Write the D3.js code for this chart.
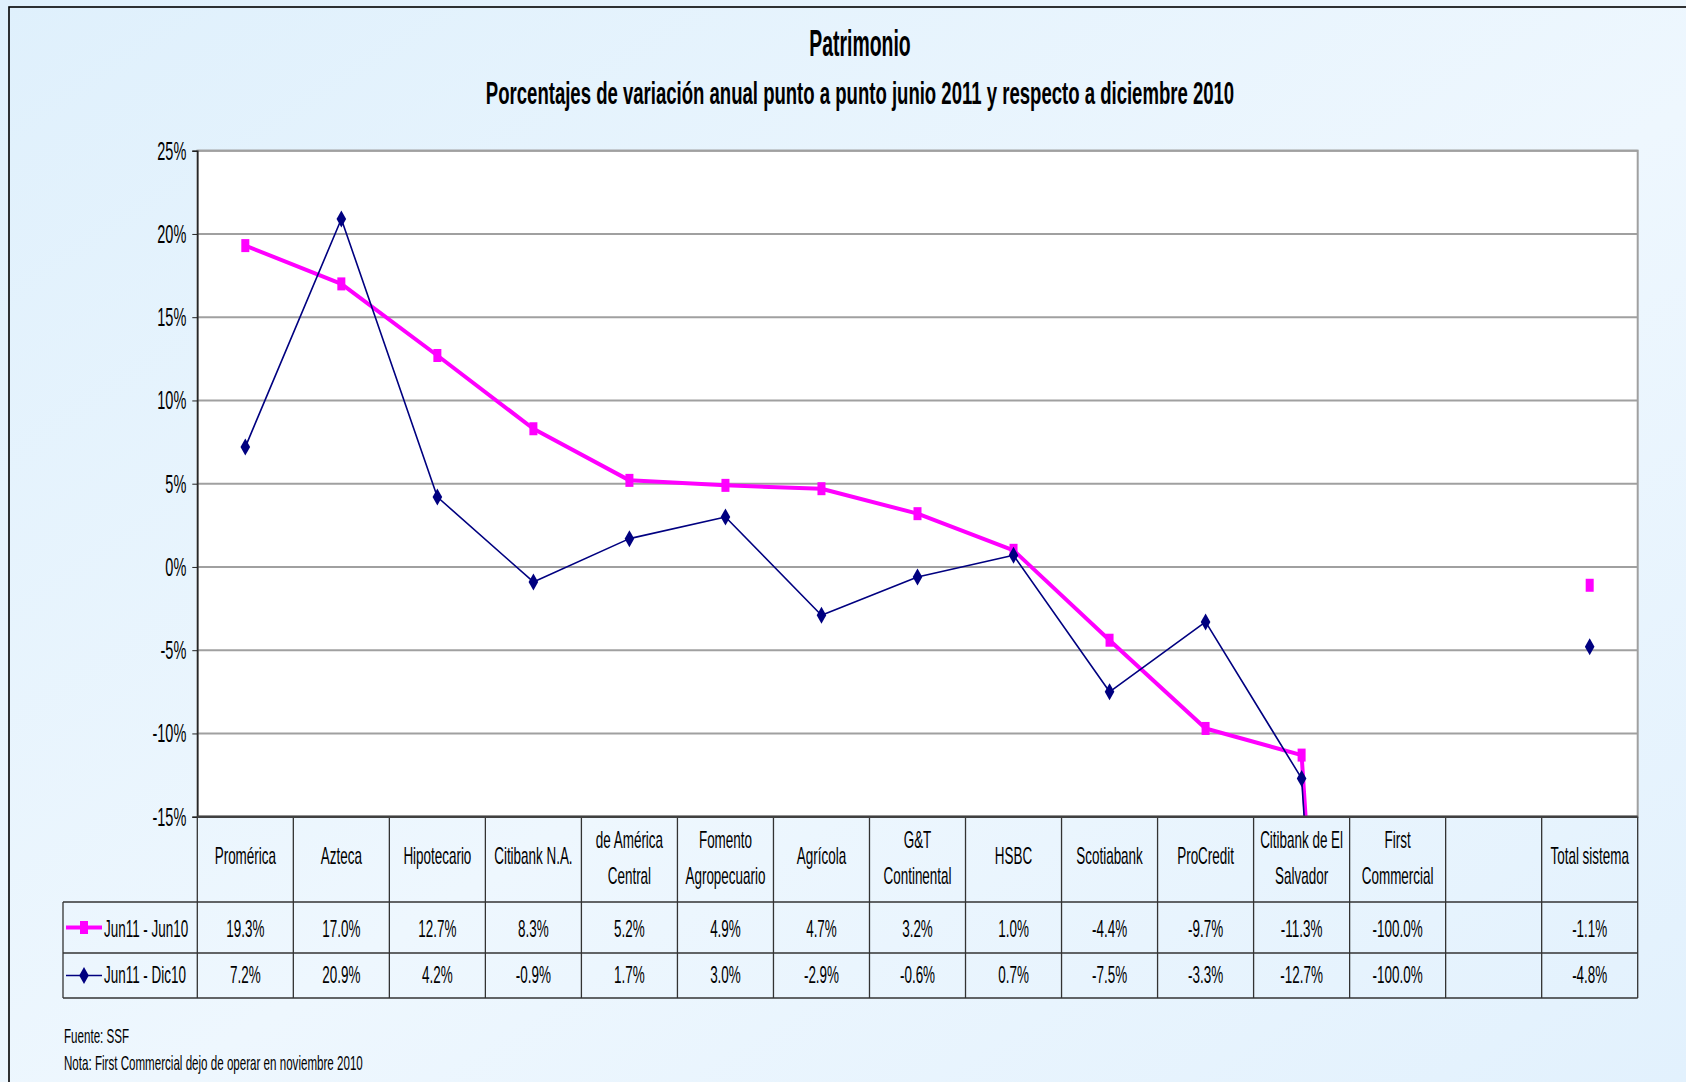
<!DOCTYPE html>
<html lang="es">
<head>
    <meta charset="UTF-8">
    <script src="https://d3js.org/d3.v7.min.js"></script>
    <style>
        body {
            margin: 0;
            background: #e4f2fd;
        }

        text {
            font-family: "Liberation Sans", Arial, sans-serif;
            fill: #000;
        }

        .grid line {
            stroke: #a0a0a0;
            stroke-width: 2px;
        }

        .cell {
            stroke: #333;
            stroke-width: 1.3px;
        }
    </style>
</head>
<body>
<script>
    // datos del gráfico
    const categories = ['Promérica', 'Azteca', 'Hipotecario', 'Citibank N.A.', 'de América\nCentral',
        'Fomento\nAgropecuario', 'Agrícola', 'G&T\nContinental', 'HSBC', 'Scotiabank', 'ProCredit',
        'Citibank de El\nSalvador', 'First\nCommercial', '', 'Total sistema'];
    const seriesNames = ['Jun11 - Jun10', 'Jun11 - Dic10'];
    const jun11Jun10 = [19.3, 17.0, 12.7, 8.3, 5.2, 4.9, 4.7, 3.2, 1.0, -4.4, -9.7, -11.3, -100.0, null, -1.1];
    const jun11Dic10 = [7.2, 20.9, 4.2, -0.9, 1.7, 3.0, -2.9, -0.6, 0.7, -7.5, -3.3, -12.7, -100.0, null, -4.8];
    const yTicks = [-15, -10, -5, 0, 5, 10, 15, 20, 25];

    const width = 1686;
    const height = 1082;
    const sx = 0.56; // texto comprimido horizontalmente
    const plotL = 197.3, plotR = 1637.7, plotT = 150.7, plotB = 816.7;
    const rowY = [816.7, 902, 953, 998];
    const legendLeft = 63;

    const series = [
        {name: seriesNames[0], values: jun11Jun10, color: '#ff00ff', width: 4, marker: 'square'},
        {name: seriesNames[1], values: jun11Dic10, color: '#000080', width: 1.6, marker: 'diamond'}
    ];

    const x = d3.scaleBand().domain(d3.range(categories.length)).range([plotL, plotR]);
    const y = d3.scaleLinear().domain([-15, 25]).range([plotB, plotT]);
    const cx = i => x(i) + x.bandwidth() / 2;

    const svg = d3.select('body').append('svg')
        .attr('width', width)
        .attr('height', height)
        .style('display', 'block');

    const defs = svg.append('defs');
    const grad = defs.append('linearGradient').attr('id', 'bg')
        .attr('x1', 0).attr('y1', 0).attr('x2', 1).attr('y2', 1);
    grad.append('stop').attr('offset', '0%').attr('stop-color', '#dff0fc');
    grad.append('stop').attr('offset', '55%').attr('stop-color', '#eef7fe');
    grad.append('stop').attr('offset', '100%').attr('stop-color', '#e2f1fd');

    defs.append('clipPath').attr('id', 'plot')
        .append('rect')
        .attr('x', plotL).attr('y', plotT)
        .attr('width', plotR - plotL).attr('height', plotB - plotT);

    svg.append('rect')
        .attr('width', width).attr('height', height)
        .attr('fill', 'url(#bg)');

    svg.append('rect')
        .attr('x', 9).attr('y', 7)
        .attr('width', width + 100).attr('height', height + 100)
        .attr('fill', 'none')
        .attr('stroke', '#000')
        .attr('stroke-width', 1.6);

    function label(g, tx, ty, str, size, anchor, scale, weight) {
        return g.append('text')
            .attr('transform', `translate(${tx},${ty}) scale(${scale || sx},1)`)
            .attr('text-anchor', anchor || 'middle')
            .style('font-size', size + 'px')
            .style('font-weight', weight || 'normal')
            .text(str);
    }

    // títulos
    label(svg, 860, 56, 'Patrimonio', 37, 'middle', 0.525, 'bold');
    label(svg, 860, 104, 'Porcentajes de variación anual punto a punto junio 2011 y respecto a diciembre 2010', 32, 'middle', 0.58, 'bold');

    // área del gráfico
    svg.append('rect')
        .attr('x', plotL).attr('y', plotT)
        .attr('width', plotR - plotL).attr('height', plotB - plotT)
        .attr('fill', '#fff')
        .attr('stroke', '#a0a0a0')
        .attr('stroke-width', 2);

    svg.append('g')
        .attr('class', 'grid')
        .selectAll('line')
        .data(yTicks.filter(t => t > -15))
        .join('line')
        .attr('x1', plotL).attr('x2', plotR)
        .attr('y1', d => y(d)).attr('y2', d => y(d));

    const yAxis = svg.append('g')
        .attr('transform', `translate(${plotL},0)`)
        .call(d3.axisLeft(y).tickValues(yTicks).tickFormat(d => d + '%').tickSize(5));
    yAxis.select('.domain').attr('stroke', '#222').attr('stroke-width', 1.5);
    yAxis.selectAll('.tick line').attr('stroke', '#222');
    yAxis.selectAll('.tick text')
        .attr('x', null).attr('dy', null)
        .attr('transform', `translate(-11,8.5) scale(0.58,1)`)
        .style('font-size', '25px')
        .style('font-family', '"Liberation Sans", Arial, sans-serif')
        .attr('fill', '#000');

    // series
    const plot = svg.append('g').attr('clip-path', 'url(#plot)');
    const line = d3.line()
        .defined(d => d != null)
        .x((d, i) => cx(i))
        .y(d => y(d));

    function marker(g, type, color) {
        if (type === 'square') {
            g.append('rect').attr('x', -4).attr('y', -6.5).attr('width', 8).attr('height', 13).attr('fill', color);
        } else {
            g.append('path').attr('d', 'M0,-8.5L4.8,0L0,8.5L-4.8,0Z').attr('fill', color);
        }
    }

    series.forEach(s => {
        plot.append('path')
            .datum(s.values)
            .attr('fill', 'none')
            .attr('stroke', s.color)
            .attr('stroke-width', s.width)
            .attr('stroke-linejoin', 'round')
            .attr('d', line);
    });
    series.forEach(s => {
        plot.selectAll(null)
            .data(s.values.map((v, i) => ({v, i})).filter(d => d.v != null && d.v >= -15))
            .join('g')
            .attr('transform', d => `translate(${cx(d.i)},${y(d.v)})`)
            .each(function () { marker(d3.select(this), s.marker, s.color); });
    });

    // tabla de datos
    const table = svg.append('g');
    const fmt = d3.formatLocale({decimal: '.', thousands: ',', grouping: [3], currency: ['', ''], minus: '-'}).format('.1f');

    table.selectAll('.vline')
        .data(d3.range(categories.length + 1))
        .join('line')
        .attr('class', 'cell')
        .attr('x1', i => plotL + i * x.bandwidth()).attr('x2', i => plotL + i * x.bandwidth())
        .attr('y1', rowY[0]).attr('y2', rowY[3]);
    table.append('line').attr('class', 'cell')
        .attr('x1', legendLeft).attr('x2', legendLeft).attr('y1', rowY[1]).attr('y2', rowY[3]);
    table.selectAll('.hline')
        .data(rowY.slice(1))
        .join('line')
        .attr('class', 'cell')
        .attr('x1', legendLeft).attr('x2', plotR)
        .attr('y1', d => d).attr('y2', d => d);
    table.append('line')
        .attr('x1', plotL).attr('x2', plotR).attr('y1', plotB).attr('y2', plotB)
        .attr('stroke', '#404040').attr('stroke-width', 2.5);

    categories.forEach((c, i) => {
        const lines = c.split('\n');
        if (lines.length === 1) {
            label(table, cx(i), 864, lines[0], 24);
        } else {
            label(table, cx(i), 848, lines[0], 24);
            label(table, cx(i), 883.5, lines[1], 24);
        }
    });

    const baselines = [936.7, 983.3];
    series.forEach((s, k) => {
        s.values.forEach((v, i) => {
            if (v != null) label(table, cx(i), baselines[k], fmt(v) + '%', 24);
        });
        const mid = (rowY[k + 1] + rowY[k + 2]) / 2;
        const lg = table.append('g').attr('transform', `translate(84,${mid})`);
        lg.append('line').attr('x1', -18).attr('x2', 18)
            .attr('stroke', s.color).attr('stroke-width', s.width);
        marker(lg, s.marker, s.color);
        label(table, 104, baselines[k], s.name, 24, 'start');
    });

    // notas
    label(svg, 64, 1042.5, 'Fuente: SSF', 20, 'start', 0.58);
    label(svg, 64, 1070, 'Nota: First Commercial dejo de operar en noviembre 2010', 20, 'start', 0.58);
</script>
</body>
</html>
